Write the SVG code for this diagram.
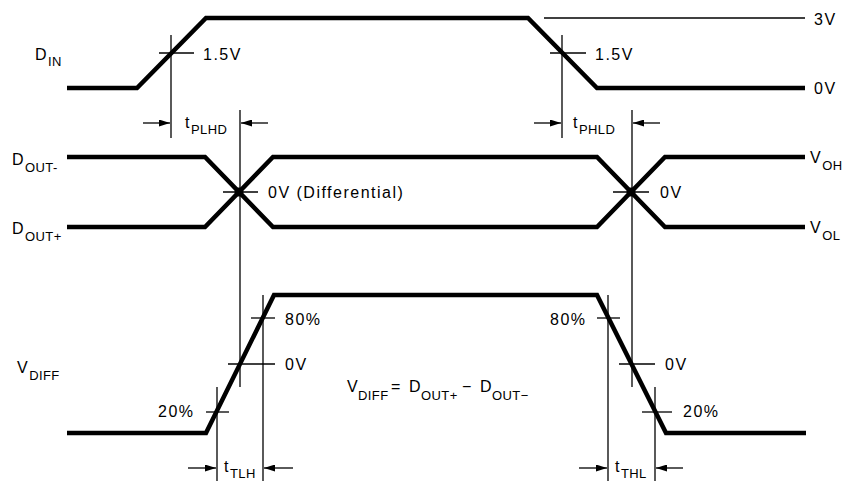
<svg xmlns="http://www.w3.org/2000/svg" width="847" height="481" viewBox="0 0 847 481">
<style>
.w{fill:none;stroke:#000;stroke-width:4.5;stroke-linejoin:miter}
.t{fill:none;stroke:#000;stroke-width:1.3}
.a{fill:none;stroke:#000;stroke-width:1.3}
text{font-family:"Liberation Sans",Arial,sans-serif;font-size:16px;letter-spacing:1.5px;fill:#000}
.s{font-size:13px;letter-spacing:0.4px}
</style>
<defs>
<marker id="ah" viewBox="0 0 11 7" refX="11" refY="3.5" markerWidth="11" markerHeight="7" markerUnits="userSpaceOnUse" orient="auto">
<path d="M0,0 L11,3.5 L0,7 z" fill="#000"/>
</marker>
</defs>
<rect width="847" height="481" fill="#fff"/>

<g id="din">
<path class="w" d="M67,88 H137 L206,18 H528 L597,88 H805"/>
<line class="t" x1="544" y1="18" x2="805" y2="18"/>
<line class="t" x1="171" y1="35" x2="171" y2="138"/>
<line class="t" x1="159" y1="53" x2="194" y2="53"/>
<line class="t" x1="562" y1="35" x2="562" y2="138"/>
<line class="t" x1="550" y1="53" x2="586" y2="53"/>
<text x="35" y="60">D<tspan class="s" dy="6">IN</tspan></text>
<text x="203" y="60">1.5V</text>
<text x="595" y="60">1.5V</text>
<text x="814" y="25">3V</text>
<text x="814" y="94">0V</text>
</g>

<g id="dout">
<path class="w" d="M67,157 H205 L273,227 H597 L665,157 H805"/>
<path class="w" d="M67,227 H205 L273,157 H597 L665,227 H805"/>
<circle cx="239" cy="192" r="4.5" fill="#000"/>
<circle cx="631" cy="192" r="4.5" fill="#000"/>
<line class="t" x1="223" y1="192" x2="258" y2="192"/>
<line class="t" x1="613" y1="192" x2="649" y2="192"/>
<text x="12" y="165">D<tspan class="s" dy="7">OUT-</tspan></text>
<text x="12" y="234">D<tspan class="s" dy="7">OUT+</tspan></text>
<text x="268" y="198">0V (Differential)</text>
<text x="660" y="198">0V</text>
<text x="810" y="163">V<tspan class="s" dy="7">OH</tspan></text>
<text x="810" y="233">V<tspan class="s" dy="7">OL</tspan></text>
</g>

<g id="vdiff">
<path class="w" d="M67,433 H206 L274,295 H597 L666,433 H806"/>
<line class="t" x1="251" y1="318" x2="275" y2="318"/>
<line class="t" x1="228" y1="364" x2="275" y2="364"/>
<line class="t" x1="206" y1="412" x2="229" y2="412"/>
<line class="t" x1="597" y1="318" x2="620" y2="318"/>
<line class="t" x1="619" y1="364" x2="655" y2="364"/>
<line class="t" x1="642" y1="412" x2="672" y2="412"/>
<text x="17" y="373">V<tspan class="s" dy="7">DIFF</tspan></text>
<text x="285" y="325">80%</text>
<text x="285" y="370">0V</text>
<text x="158" y="417">20%</text>
<text x="550" y="325">80%</text>
<text x="665" y="370">0V</text>
<text x="683" y="417">20%</text>
<text x="347" y="392">V<tspan class="s" x="358" dy="8">DIFF</tspan><tspan x="391" dy="-8">=</tspan><tspan x="409">D</tspan><tspan class="s" x="421" dy="8">OUT+</tspan><tspan x="462" dy="-8">−</tspan><tspan x="480">D</tspan><tspan class="s" x="492" dy="8">OUT−</tspan></text>
</g>

<g id="timing">
<line class="t" x1="240" y1="110" x2="240" y2="387"/>
<line class="t" x1="632" y1="110" x2="632" y2="387"/>
<line class="t" x1="263" y1="295" x2="263" y2="481"/>
<line class="t" x1="217" y1="387" x2="217" y2="481"/>
<line class="t" x1="608" y1="295" x2="608" y2="481"/>
<line class="t" x1="655" y1="387" x2="655" y2="481"/>
<text x="185" y="128">t<tspan class="s" dy="6">PLHD</tspan></text>
<text x="573" y="128">t<tspan class="s" dy="6">PHLD</tspan></text>
<text x="224" y="472">t<tspan class="s" dy="6">TLH</tspan></text>
<text x="615" y="472">t<tspan class="s" dy="6">THL</tspan></text>
</g>

<g id="connectors">
<line class="a" x1="143" y1="123" x2="170" y2="123" marker-end="url(#ah)"/>
<line class="a" x1="268" y1="123" x2="241" y2="123" marker-end="url(#ah)"/>
<line class="a" x1="534" y1="123" x2="561" y2="123" marker-end="url(#ah)"/>
<line class="a" x1="660" y1="123" x2="633" y2="123" marker-end="url(#ah)"/>
<line class="a" x1="188" y1="468" x2="216" y2="468" marker-end="url(#ah)"/>
<line class="a" x1="293" y1="468" x2="264" y2="468" marker-end="url(#ah)"/>
<line class="a" x1="579" y1="468" x2="607" y2="468" marker-end="url(#ah)"/>
<line class="a" x1="683" y1="468" x2="656" y2="468" marker-end="url(#ah)"/>
</g>
</svg>
